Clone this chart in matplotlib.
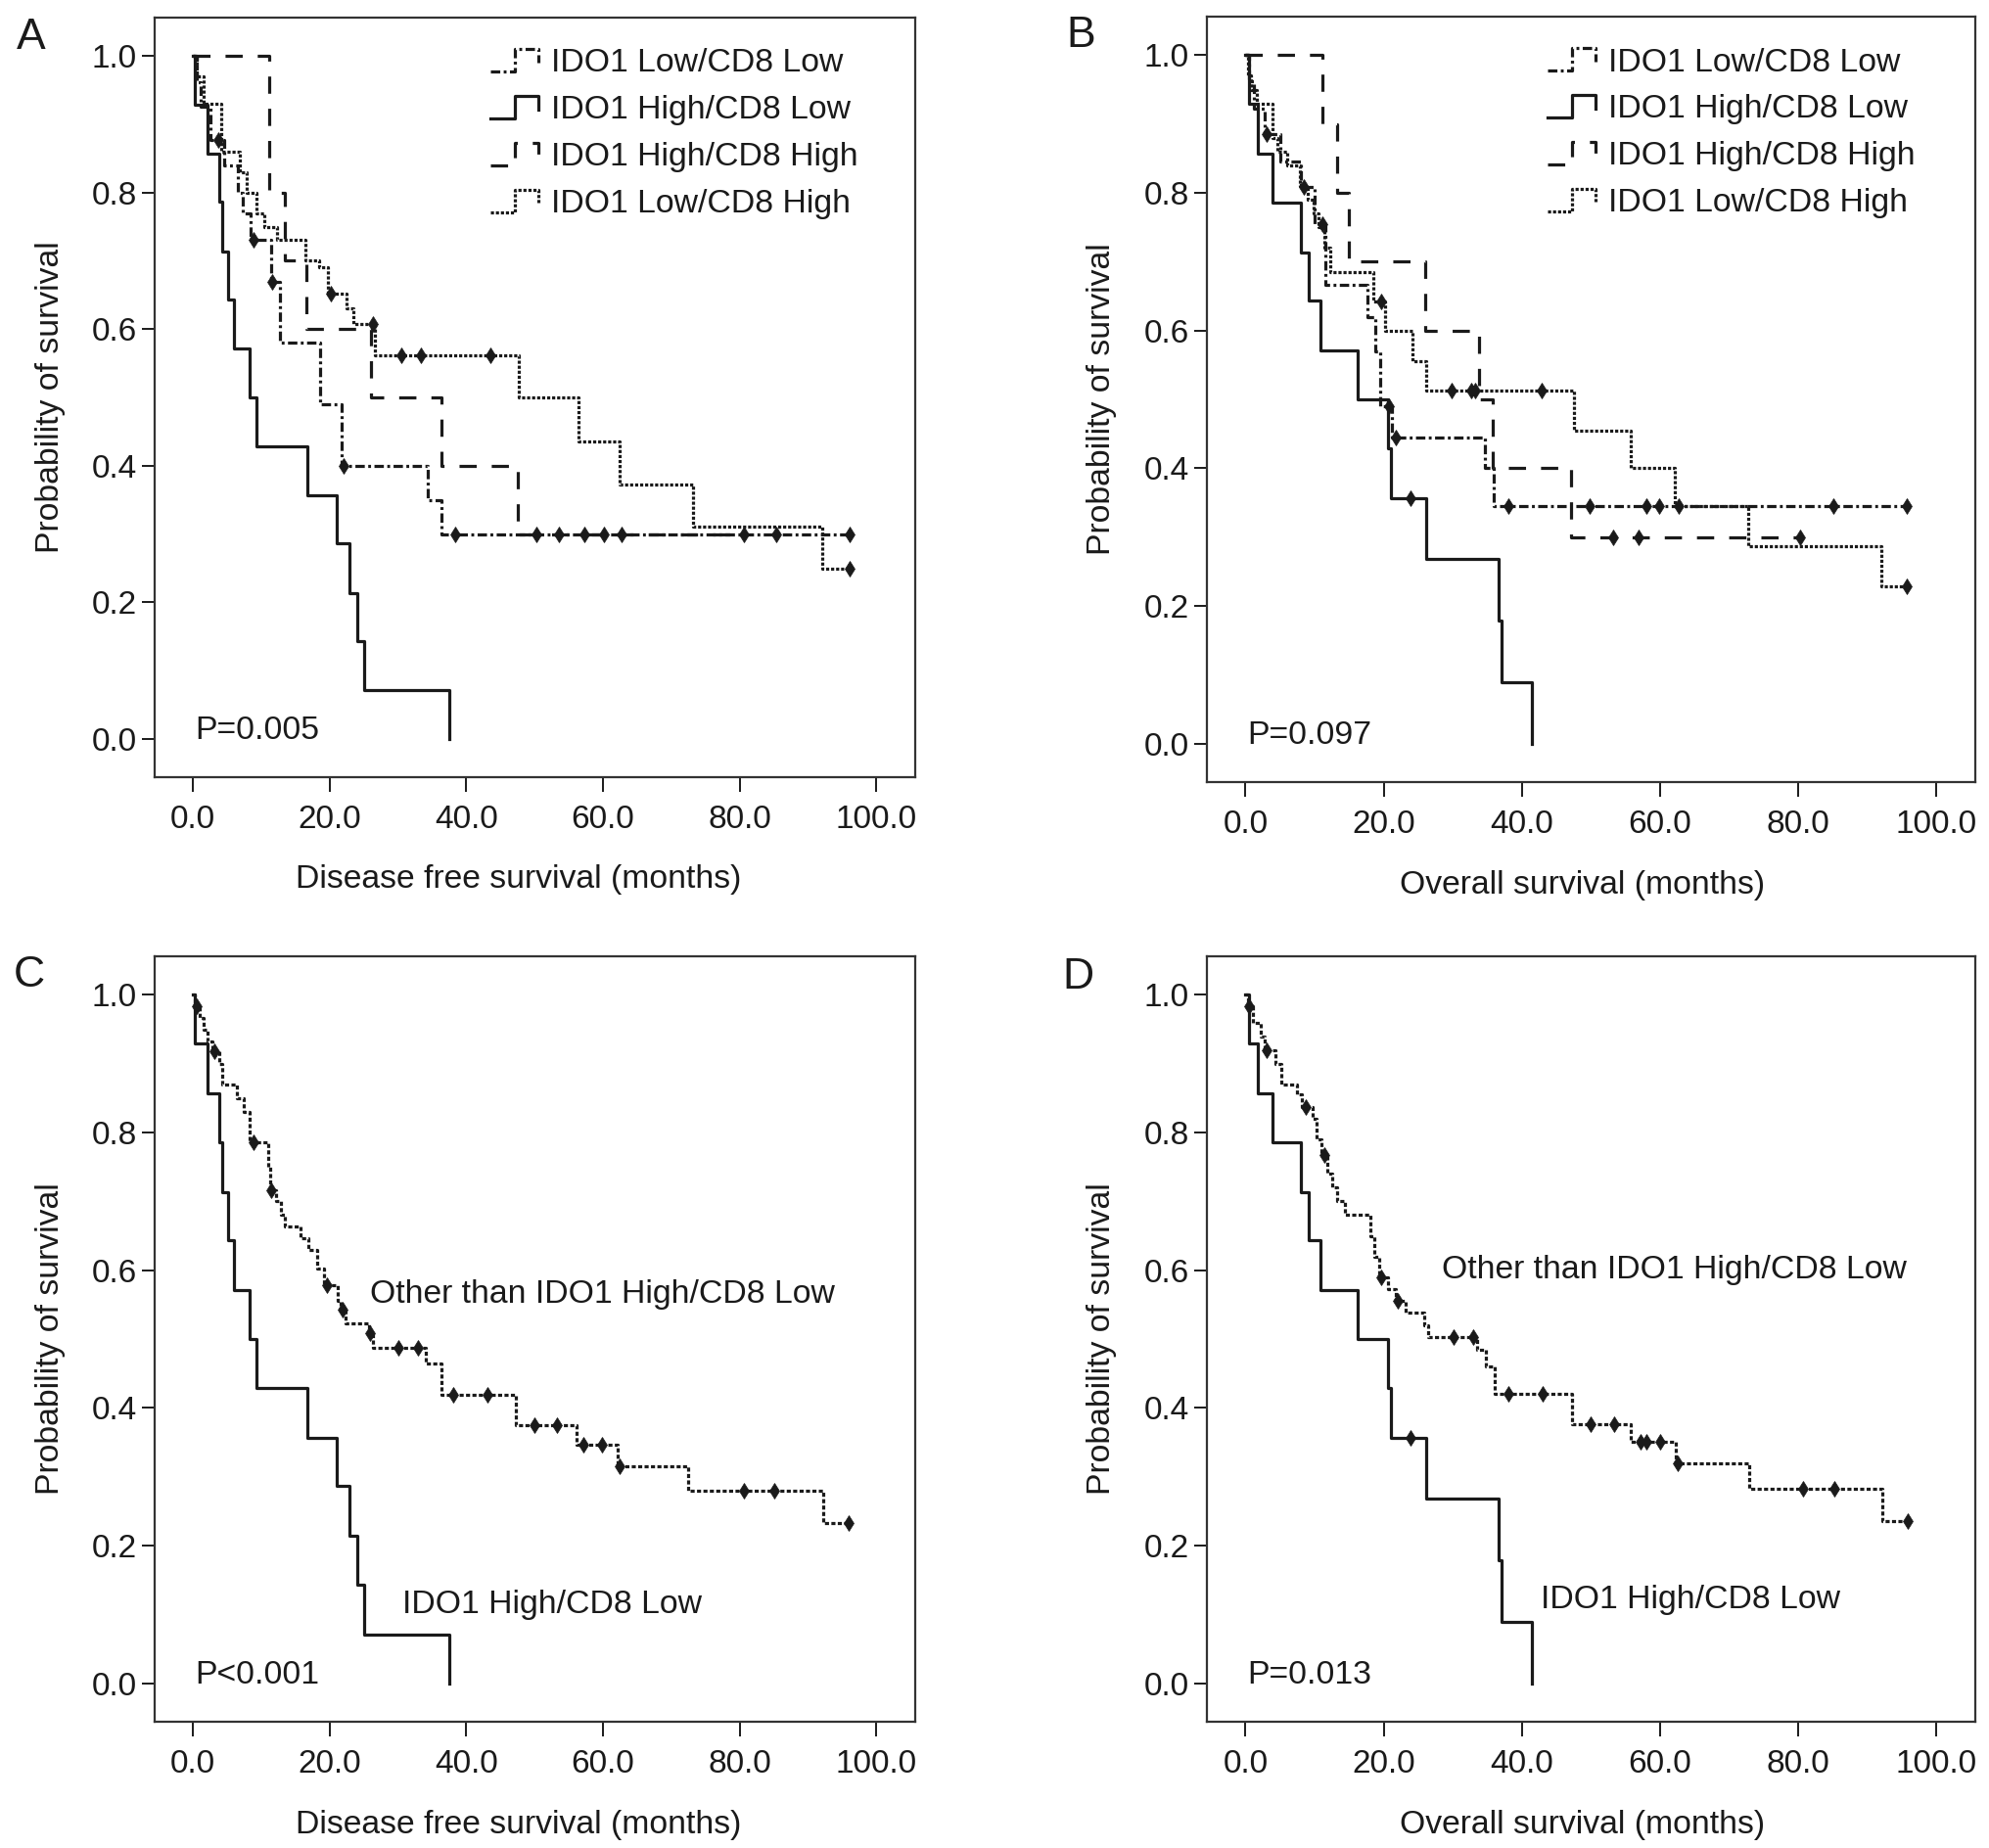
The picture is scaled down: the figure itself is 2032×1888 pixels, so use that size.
import matplotlib
matplotlib.use("Agg")
import matplotlib.pyplot as plt
from matplotlib.lines import Line2D
from matplotlib.legend_handler import HandlerBase
from matplotlib.ticker import FormatStrFormatter

plt.rcParams['font.family'] = ['Liberation Sans', 'DejaVu Sans']
plt.rcParams['font.size'] = 24

# ---------------- data ----------------
# each curve: event times (months), survival after each event, censor times, last follow-up
# Disease free survival (A, C)
dfs_ll_t = [0.5, 1.2, 2.6, 4.6, 6.6, 7.3, 8.4, 11.4, 12.8, 18.6, 21.7, 34.3, 36.4]
dfs_ll_s = [0.962, 0.925, 0.877, 0.84, 0.80, 0.77, 0.731, 0.669, 0.58, 0.49, 0.40, 0.35, 0.30]
dfs_ll_c = [3.7, 8.8, 11.6, 22.1, 38.4, 60.1, 62.7, 85.3, 96.1]
dfs_ll_end = 96.1

dfs_hl_t = [0.3, 2.1, 3.8, 4.3, 5.1, 6.0, 8.3, 9.3, 16.8, 21.1, 22.9, 24.1, 25.0, 37.5]
dfs_hl_s = [0.929, 0.857, 0.786, 0.714, 0.643, 0.571, 0.5, 0.429, 0.357, 0.286, 0.214, 0.143, 0.071, 0.0]
dfs_hl_c = []
dfs_hl_end = 37.5

dfs_hh_t = [11.2, 13.5, 16.6, 26.1, 36.4, 47.5]
dfs_hh_s = [0.8, 0.7, 0.6, 0.5, 0.4, 0.3]
dfs_hh_c = [50.3, 53.5, 57.3, 80.6]
dfs_hh_end = 80.6

dfs_lh_t = [0.5, 1.5, 4.2, 6.8, 7.8, 9.3, 10.5, 12.3, 16.4, 18.5, 19.8, 22.5, 23.5, 26.6,
            47.7, 56.4, 62.5, 73.2, 92.1]
dfs_lh_s = [0.97, 0.93, 0.86, 0.83, 0.80, 0.77, 0.75, 0.73, 0.70, 0.69, 0.652, 0.63, 0.608, 0.561,
            0.50, 0.436, 0.373, 0.311, 0.249]
dfs_lh_c = [20.2, 26.4, 30.5, 33.4, 43.5, 96.1]
dfs_lh_end = 96.1

dfs_oth_t = [0.3, 1.0, 1.6, 2.2, 2.8, 3.8, 4.3, 6.5, 7.4, 8.3, 11.0, 11.3, 12.2, 12.9, 13.5, 15.8,
             16.9, 18.2, 19.2, 21.2, 21.6, 22.3, 25.7, 26.4, 34.1, 36.3, 47.2, 56.2, 62.1, 72.5, 92.3]
dfs_oth_s = [0.983, 0.966, 0.95, 0.932, 0.918, 0.90, 0.87, 0.85, 0.83, 0.786, 0.75, 0.716, 0.70, 0.68,
             0.663, 0.646, 0.629, 0.603, 0.578, 0.556, 0.542, 0.523, 0.508, 0.487, 0.465, 0.419,
             0.375, 0.347, 0.315, 0.280, 0.233]
dfs_oth_c = [0.5, 3.2, 8.8, 11.5, 19.6, 21.9, 25.9, 30.0, 33.0, 38.1, 43.1, 50.0, 53.3, 57.1, 59.8,
             62.5, 80.6, 85.1, 95.9]
dfs_oth_end = 95.9

# Overall survival (B, D)
os_ll_t = [0.5, 1.2, 2.8, 5.0, 8.0, 10.0, 11.6, 17.6, 18.8, 19.5, 21.2, 34.7, 36.0]
os_ll_s = [0.962, 0.923, 0.885, 0.846, 0.808, 0.755, 0.666, 0.62, 0.57, 0.49, 0.445, 0.40, 0.345]
os_ll_c = [3.1, 8.5, 11.2, 20.8, 21.8, 38.1, 49.8, 58.1, 59.9, 62.7, 85.2, 95.8]
os_ll_end = 95.8

os_hl_t = [0.5, 1.8, 3.9, 8.0, 9.1, 10.8, 16.3, 20.6, 21.0, 26.1, 36.7, 37.1, 41.5]
os_hl_s = [0.929, 0.857, 0.786, 0.714, 0.643, 0.571, 0.5, 0.429, 0.357, 0.268, 0.179, 0.089, 0.0]
os_hl_c = [23.9]
os_hl_end = 41.5

os_hh_t = [11.2, 13.3, 14.9, 26.0, 33.8, 35.8, 47.1]
os_hh_s = [0.9, 0.8, 0.7, 0.6, 0.5, 0.4, 0.3]
os_hh_c = [53.3, 56.9, 80.3]
os_hh_end = 80.3

os_lh_t = [0.3, 0.8, 1.6, 3.9, 4.6, 6.0, 7.8, 9.0, 9.8, 10.6, 11.4, 12.3, 18.5, 20.2, 24.2, 26.1,
           47.6, 55.8, 62.2, 72.8, 92.1]
os_lh_s = [0.97, 0.95, 0.93, 0.88, 0.86, 0.84, 0.81, 0.79, 0.77, 0.75, 0.72, 0.685, 0.642, 0.599,
           0.556, 0.513, 0.455, 0.40, 0.345, 0.287, 0.229]
os_lh_c = [19.7, 29.9, 32.7, 33.2, 42.9, 95.8]
os_lh_end = 95.8

os_oth_t = [0.3, 1.0, 2.2, 2.8, 4.3, 5.2, 7.5, 8.2, 9.7, 10.3, 11.0, 11.9, 12.6, 13.2, 14.4, 18.1,
            18.6, 19.3, 20.7, 21.8, 23.2, 25.9, 26.4, 33.6, 34.8, 36.1, 47.3, 55.8, 62.3, 72.9, 92.2]
os_oth_s = [0.983, 0.96, 0.94, 0.919, 0.90, 0.87, 0.855, 0.837, 0.82, 0.79, 0.767, 0.74, 0.72, 0.701,
            0.68, 0.65, 0.62, 0.59, 0.572, 0.555, 0.539, 0.52, 0.503, 0.485, 0.46, 0.421, 0.376,
            0.35, 0.32, 0.283, 0.235]
os_oth_c = [0.5, 3.1, 8.7, 11.4, 19.7, 22.1, 30.1, 33.0, 38.1, 43.0, 50.0, 53.4, 57.2, 58.0, 60.0,
            62.6, 80.7, 85.3, 95.9]
os_oth_end = 95.9

group_labels = ['IDO1 Low/CD8 Low', 'IDO1 High/CD8 Low', 'IDO1 High/CD8 High', 'IDO1 Low/CD8 High']
other_label = 'Other than IDO1 High/CD8 Low'
p_values = ['P=0.005', 'P=0.097', 'P<0.001', 'P=0.013']
xlabels = ['Disease free survival (months)', 'Overall survival (months)',
           'Disease free survival (months)', 'Overall survival (months)']
panel_letters = ['A', 'B', 'C', 'D']

# ---------------- styles ----------------
INK = '#1a1a1a'
LW = 2.3
FS = 24.3
style_ll = dict(linestyle=(0, (3.0, 1.1, 0.9, 1.1)))
style_hl = dict(linestyle='-')
style_hh = dict(linestyle=(0, (5.5, 4.8)))
style_lh = dict(linestyle=(0, (1.0, 0.6)))
style_oth = dict(linestyle=(0, (1.3, 0.75)))


def surv_at(times, surv, t):
    v = 1.0
    for ti, si in zip(times, surv):
        if ti <= t:
            v = si
    return v


def km(ax, times, surv, cens, end, style):
    xs = [0] + list(times) + [end]
    ys = [1.0] + list(surv) + [surv[-1]]
    line, = ax.step(xs, ys, where='post', color=INK, lw=LW, **style)
    if cens:
        cy = [surv_at(times, surv, c) for c in cens]
        ax.plot(cens, cy, linestyle='none', marker='d', markersize=8.5,
                color=INK, markeredgewidth=0.5)
    return line


class StepHandler(HandlerBase):
    def create_artists(self, legend, orig_handle, xdescent, ydescent,
                       width, height, fontsize, trans):
        x0, y0 = -xdescent, -ydescent
        xs = [x0, x0 + 0.5 * width, x0 + 0.5 * width, x0 + width, x0 + width]
        ys = [y0 + 0.05 * height, y0 + 0.05 * height, y0 + 0.95 * height,
              y0 + 0.95 * height, y0 + 0.4 * height]
        ln = Line2D(xs, ys)
        ln.update_from(orig_handle)
        ln.set_marker('None')
        ln.set_transform(trans)
        return [ln]


def style_axes(ax, xlabel, lx):
    ax.set_xlim(-5.6, 105.7)
    ax.set_ylim(-0.056, 1.056)
    ax.set_xticks([0, 20, 40, 60, 80, 100])
    ax.set_yticks([0, 0.2, 0.4, 0.6, 0.8, 1.0])
    ax.xaxis.set_major_formatter(FormatStrFormatter('%.1f'))
    ax.yaxis.set_major_formatter(FormatStrFormatter('%.1f'))
    ax.tick_params(axis='x', direction='out', length=11, width=1.4, pad=9, colors=INK, labelsize=24)
    ax.tick_params(axis='y', direction='out', length=9.5, width=1.4, pad=3.5, colors=INK, labelsize=24)
    for sp in ax.spines.values():
        sp.set_linewidth(1.6)
        sp.set_color('#333333')
    ax.set_xlabel(xlabel, fontsize=FS, color=INK)
    ax.set_ylabel('Probability of survival', fontsize=FS, color=INK)
    ax.xaxis.set_label_coords(lx, -0.115)
    ax.yaxis.set_label_coords(-0.117, 0.5)


def add_legend(ax, handles, x_anchor, y_anchor):
    leg = ax.legend(handles, group_labels, loc='upper left',
                    bbox_to_anchor=(x_anchor, y_anchor), bbox_transform=ax.transData,
                    frameon=False, borderpad=0, borderaxespad=0, handlelength=1.45,
                    handleheight=0.8, handletextpad=0.36, labelspacing=0.48, fontsize=FS,
                    handler_map={Line2D: StepHandler()})
    for t in leg.get_texts():
        t.set_color(INK)
    return leg


W, H = 2032, 1888
fig = plt.figure(figsize=(W / 100, H / 100), dpi=100)


def add_axes(l, t, r, b):
    return fig.add_axes([l / W, 1 - b / H, (r - l) / W, (b - t) / H])


axA = add_axes(158, 18, 935, 794)
axB = add_axes(1233, 17, 2018, 799)
axC = add_axes(158, 977, 935, 1759)
axD = add_axes(1233, 977, 2018, 1759)

# A
h1 = km(axA, dfs_ll_t, dfs_ll_s, dfs_ll_c, dfs_ll_end, style_ll)
h2 = km(axA, dfs_hl_t, dfs_hl_s, dfs_hl_c, dfs_hl_end, style_hl)
h3 = km(axA, dfs_hh_t, dfs_hh_s, dfs_hh_c, dfs_hh_end, style_hh)
h4 = km(axA, dfs_lh_t, dfs_lh_s, dfs_lh_c, dfs_lh_end, style_lh)
add_legend(axA, [h1, h2, h3, h4], 43.6, 1.012)

# B
g1 = km(axB, os_ll_t, os_ll_s, os_ll_c, os_ll_end, style_ll)
g2 = km(axB, os_hl_t, os_hl_s, os_hl_c, os_hl_end, style_hl)
g3 = km(axB, os_hh_t, os_hh_s, os_hh_c, os_hh_end, style_hh)
g4 = km(axB, os_lh_t, os_lh_s, os_lh_c, os_lh_end, style_lh)
add_legend(axB, [g1, g2, g3, g4], 43.8, 1.012)

# C
km(axC, dfs_hl_t, dfs_hl_s, dfs_hl_c, dfs_hl_end, style_hl)
km(axC, dfs_oth_t, dfs_oth_s, dfs_oth_c, dfs_oth_end, style_oth)
axC.text(25.9, 0.564, other_label, fontsize=FS, color=INK, va='center', ha='left')
axC.text(30.6, 0.114, group_labels[1], fontsize=FS, color=INK, va='center', ha='left')

# D
km(axD, os_hl_t, os_hl_s, os_hl_c, os_hl_end, style_hl)
km(axD, os_oth_t, os_oth_s, os_oth_c, os_oth_end, style_oth)
axD.text(28.4, 0.60, other_label, fontsize=FS, color=INK, va='center', ha='left')
axD.text(42.8, 0.121, group_labels[1], fontsize=FS, color=INK, va='center', ha='left')

for ax, xl, lx, p in zip([axA, axB, axC, axD], xlabels, [0.479, 0.488, 0.479, 0.488], p_values):
    style_axes(ax, xl, lx)
    ax.text(0.3, 0.012, p, fontsize=FS, color=INK, va='center', ha='left')

for letter, (px, py) in zip(panel_letters, [(32, 38), (1104, 37), (30, 997), (1101, 998)]):
    fig.text(px / W, 1 - py / H, letter, fontsize=32, color=INK, ha='center', va='center')

fig.savefig('out.png', dpi=100, facecolor='white')
